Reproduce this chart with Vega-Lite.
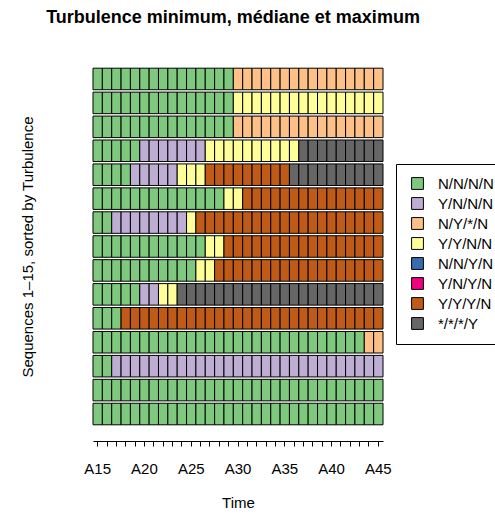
{
  "$schema": "https://vega.github.io/schema/vega-lite/v6.json",
  "autosize": {"type": "none"},
  "padding": {"left": 93, "top": 67, "right": 112, "bottom": 87},
  "width": 290,
  "height": 359,
  "background": "white",
  "config": {"view": {"stroke": null}, "font": "Liberation Sans"},
  "title": {"text": "Turbulence minimum, médiane et maximum", "font": "Liberation Sans", "fontSize": 18, "fontWeight": "bold", "anchor": "middle", "offset": 40, "dx": -5, "color": "black"},
  "data": {"values": [
    {"seq": 1, "A15": "N/N/N/N", "A16": "N/N/N/N", "A17": "N/N/N/N", "A18": "N/N/N/N", "A19": "N/N/N/N", "A20": "N/N/N/N", "A21": "N/N/N/N", "A22": "N/N/N/N", "A23": "N/N/N/N", "A24": "N/N/N/N", "A25": "N/N/N/N", "A26": "N/N/N/N", "A27": "N/N/N/N", "A28": "N/N/N/N", "A29": "N/N/N/N", "A30": "N/Y/*/N", "A31": "N/Y/*/N", "A32": "N/Y/*/N", "A33": "N/Y/*/N", "A34": "N/Y/*/N", "A35": "N/Y/*/N", "A36": "N/Y/*/N", "A37": "N/Y/*/N", "A38": "N/Y/*/N", "A39": "N/Y/*/N", "A40": "N/Y/*/N", "A41": "N/Y/*/N", "A42": "N/Y/*/N", "A43": "N/Y/*/N", "A44": "N/Y/*/N", "A45": "N/Y/*/N"},
    {"seq": 2, "A15": "N/N/N/N", "A16": "N/N/N/N", "A17": "N/N/N/N", "A18": "N/N/N/N", "A19": "N/N/N/N", "A20": "N/N/N/N", "A21": "N/N/N/N", "A22": "N/N/N/N", "A23": "N/N/N/N", "A24": "N/N/N/N", "A25": "N/N/N/N", "A26": "N/N/N/N", "A27": "N/N/N/N", "A28": "N/N/N/N", "A29": "N/N/N/N", "A30": "Y/Y/N/N", "A31": "Y/Y/N/N", "A32": "Y/Y/N/N", "A33": "Y/Y/N/N", "A34": "Y/Y/N/N", "A35": "Y/Y/N/N", "A36": "Y/Y/N/N", "A37": "Y/Y/N/N", "A38": "Y/Y/N/N", "A39": "Y/Y/N/N", "A40": "Y/Y/N/N", "A41": "Y/Y/N/N", "A42": "Y/Y/N/N", "A43": "Y/Y/N/N", "A44": "Y/Y/N/N", "A45": "Y/Y/N/N"},
    {"seq": 3, "A15": "N/N/N/N", "A16": "N/N/N/N", "A17": "N/N/N/N", "A18": "N/N/N/N", "A19": "N/N/N/N", "A20": "N/N/N/N", "A21": "N/N/N/N", "A22": "N/N/N/N", "A23": "N/N/N/N", "A24": "N/N/N/N", "A25": "N/N/N/N", "A26": "N/N/N/N", "A27": "N/N/N/N", "A28": "N/N/N/N", "A29": "N/N/N/N", "A30": "N/Y/*/N", "A31": "N/Y/*/N", "A32": "N/Y/*/N", "A33": "N/Y/*/N", "A34": "N/Y/*/N", "A35": "N/Y/*/N", "A36": "N/Y/*/N", "A37": "N/Y/*/N", "A38": "N/Y/*/N", "A39": "N/Y/*/N", "A40": "N/Y/*/N", "A41": "N/Y/*/N", "A42": "N/Y/*/N", "A43": "N/Y/*/N", "A44": "N/Y/*/N", "A45": "N/Y/*/N"},
    {"seq": 4, "A15": "N/N/N/N", "A16": "N/N/N/N", "A17": "N/N/N/N", "A18": "N/N/N/N", "A19": "N/N/N/N", "A20": "Y/N/N/N", "A21": "Y/N/N/N", "A22": "Y/N/N/N", "A23": "Y/N/N/N", "A24": "Y/N/N/N", "A25": "Y/N/N/N", "A26": "Y/N/N/N", "A27": "Y/Y/N/N", "A28": "Y/Y/N/N", "A29": "Y/Y/N/N", "A30": "Y/Y/N/N", "A31": "Y/Y/N/N", "A32": "Y/Y/N/N", "A33": "Y/Y/N/N", "A34": "Y/Y/N/N", "A35": "Y/Y/N/N", "A36": "Y/Y/N/N", "A37": "*/*/*/Y", "A38": "*/*/*/Y", "A39": "*/*/*/Y", "A40": "*/*/*/Y", "A41": "*/*/*/Y", "A42": "*/*/*/Y", "A43": "*/*/*/Y", "A44": "*/*/*/Y", "A45": "*/*/*/Y"},
    {"seq": 5, "A15": "N/N/N/N", "A16": "N/N/N/N", "A17": "N/N/N/N", "A18": "N/N/N/N", "A19": "Y/N/N/N", "A20": "Y/N/N/N", "A21": "Y/N/N/N", "A22": "Y/N/N/N", "A23": "Y/N/N/N", "A24": "Y/Y/N/N", "A25": "Y/Y/N/N", "A26": "Y/Y/N/N", "A27": "Y/Y/Y/N", "A28": "Y/Y/Y/N", "A29": "Y/Y/Y/N", "A30": "Y/Y/Y/N", "A31": "Y/Y/Y/N", "A32": "Y/Y/Y/N", "A33": "Y/Y/Y/N", "A34": "Y/Y/Y/N", "A35": "Y/Y/Y/N", "A36": "*/*/*/Y", "A37": "*/*/*/Y", "A38": "*/*/*/Y", "A39": "*/*/*/Y", "A40": "*/*/*/Y", "A41": "*/*/*/Y", "A42": "*/*/*/Y", "A43": "*/*/*/Y", "A44": "*/*/*/Y", "A45": "*/*/*/Y"},
    {"seq": 6, "A15": "N/N/N/N", "A16": "N/N/N/N", "A17": "N/N/N/N", "A18": "N/N/N/N", "A19": "N/N/N/N", "A20": "N/N/N/N", "A21": "N/N/N/N", "A22": "N/N/N/N", "A23": "N/N/N/N", "A24": "N/N/N/N", "A25": "N/N/N/N", "A26": "N/N/N/N", "A27": "N/N/N/N", "A28": "N/N/N/N", "A29": "Y/Y/N/N", "A30": "Y/Y/N/N", "A31": "Y/Y/Y/N", "A32": "Y/Y/Y/N", "A33": "Y/Y/Y/N", "A34": "Y/Y/Y/N", "A35": "Y/Y/Y/N", "A36": "Y/Y/Y/N", "A37": "Y/Y/Y/N", "A38": "Y/Y/Y/N", "A39": "Y/Y/Y/N", "A40": "Y/Y/Y/N", "A41": "Y/Y/Y/N", "A42": "Y/Y/Y/N", "A43": "Y/Y/Y/N", "A44": "Y/Y/Y/N", "A45": "Y/Y/Y/N"},
    {"seq": 7, "A15": "N/N/N/N", "A16": "N/N/N/N", "A17": "Y/N/N/N", "A18": "Y/N/N/N", "A19": "Y/N/N/N", "A20": "Y/N/N/N", "A21": "Y/N/N/N", "A22": "Y/N/N/N", "A23": "Y/N/N/N", "A24": "Y/N/N/N", "A25": "Y/Y/N/N", "A26": "Y/Y/Y/N", "A27": "Y/Y/Y/N", "A28": "Y/Y/Y/N", "A29": "Y/Y/Y/N", "A30": "Y/Y/Y/N", "A31": "Y/Y/Y/N", "A32": "Y/Y/Y/N", "A33": "Y/Y/Y/N", "A34": "Y/Y/Y/N", "A35": "Y/Y/Y/N", "A36": "Y/Y/Y/N", "A37": "Y/Y/Y/N", "A38": "Y/Y/Y/N", "A39": "Y/Y/Y/N", "A40": "Y/Y/Y/N", "A41": "Y/Y/Y/N", "A42": "Y/Y/Y/N", "A43": "Y/Y/Y/N", "A44": "Y/Y/Y/N", "A45": "Y/Y/Y/N"},
    {"seq": 8, "A15": "N/N/N/N", "A16": "N/N/N/N", "A17": "N/N/N/N", "A18": "N/N/N/N", "A19": "N/N/N/N", "A20": "N/N/N/N", "A21": "N/N/N/N", "A22": "N/N/N/N", "A23": "N/N/N/N", "A24": "N/N/N/N", "A25": "N/N/N/N", "A26": "N/N/N/N", "A27": "Y/Y/N/N", "A28": "Y/Y/N/N", "A29": "Y/Y/Y/N", "A30": "Y/Y/Y/N", "A31": "Y/Y/Y/N", "A32": "Y/Y/Y/N", "A33": "Y/Y/Y/N", "A34": "Y/Y/Y/N", "A35": "Y/Y/Y/N", "A36": "Y/Y/Y/N", "A37": "Y/Y/Y/N", "A38": "Y/Y/Y/N", "A39": "Y/Y/Y/N", "A40": "Y/Y/Y/N", "A41": "Y/Y/Y/N", "A42": "Y/Y/Y/N", "A43": "Y/Y/Y/N", "A44": "Y/Y/Y/N", "A45": "Y/Y/Y/N"},
    {"seq": 9, "A15": "N/N/N/N", "A16": "N/N/N/N", "A17": "N/N/N/N", "A18": "N/N/N/N", "A19": "N/N/N/N", "A20": "N/N/N/N", "A21": "N/N/N/N", "A22": "N/N/N/N", "A23": "N/N/N/N", "A24": "N/N/N/N", "A25": "N/N/N/N", "A26": "Y/Y/N/N", "A27": "Y/Y/N/N", "A28": "Y/Y/Y/N", "A29": "Y/Y/Y/N", "A30": "Y/Y/Y/N", "A31": "Y/Y/Y/N", "A32": "Y/Y/Y/N", "A33": "Y/Y/Y/N", "A34": "Y/Y/Y/N", "A35": "Y/Y/Y/N", "A36": "Y/Y/Y/N", "A37": "Y/Y/Y/N", "A38": "Y/Y/Y/N", "A39": "Y/Y/Y/N", "A40": "Y/Y/Y/N", "A41": "Y/Y/Y/N", "A42": "Y/Y/Y/N", "A43": "Y/Y/Y/N", "A44": "Y/Y/Y/N", "A45": "Y/Y/Y/N"},
    {"seq": 10, "A15": "N/N/N/N", "A16": "N/N/N/N", "A17": "N/N/N/N", "A18": "N/N/N/N", "A19": "N/N/N/N", "A20": "Y/N/N/N", "A21": "Y/N/N/N", "A22": "Y/Y/N/N", "A23": "Y/Y/N/N", "A24": "*/*/*/Y", "A25": "*/*/*/Y", "A26": "*/*/*/Y", "A27": "*/*/*/Y", "A28": "*/*/*/Y", "A29": "*/*/*/Y", "A30": "*/*/*/Y", "A31": "*/*/*/Y", "A32": "*/*/*/Y", "A33": "*/*/*/Y", "A34": "*/*/*/Y", "A35": "*/*/*/Y", "A36": "*/*/*/Y", "A37": "*/*/*/Y", "A38": "*/*/*/Y", "A39": "*/*/*/Y", "A40": "*/*/*/Y", "A41": "*/*/*/Y", "A42": "*/*/*/Y", "A43": "*/*/*/Y", "A44": "*/*/*/Y", "A45": "*/*/*/Y"},
    {"seq": 11, "A15": "N/N/N/N", "A16": "N/N/N/N", "A17": "N/N/N/N", "A18": "Y/Y/Y/N", "A19": "Y/Y/Y/N", "A20": "Y/Y/Y/N", "A21": "Y/Y/Y/N", "A22": "Y/Y/Y/N", "A23": "Y/Y/Y/N", "A24": "Y/Y/Y/N", "A25": "Y/Y/Y/N", "A26": "Y/Y/Y/N", "A27": "Y/Y/Y/N", "A28": "Y/Y/Y/N", "A29": "Y/Y/Y/N", "A30": "Y/Y/Y/N", "A31": "Y/Y/Y/N", "A32": "Y/Y/Y/N", "A33": "Y/Y/Y/N", "A34": "Y/Y/Y/N", "A35": "Y/Y/Y/N", "A36": "Y/Y/Y/N", "A37": "Y/Y/Y/N", "A38": "Y/Y/Y/N", "A39": "Y/Y/Y/N", "A40": "Y/Y/Y/N", "A41": "Y/Y/Y/N", "A42": "Y/Y/Y/N", "A43": "Y/Y/Y/N", "A44": "Y/Y/Y/N", "A45": "Y/Y/Y/N"},
    {"seq": 12, "A15": "N/N/N/N", "A16": "N/N/N/N", "A17": "N/N/N/N", "A18": "N/N/N/N", "A19": "N/N/N/N", "A20": "N/N/N/N", "A21": "N/N/N/N", "A22": "N/N/N/N", "A23": "N/N/N/N", "A24": "N/N/N/N", "A25": "N/N/N/N", "A26": "N/N/N/N", "A27": "N/N/N/N", "A28": "N/N/N/N", "A29": "N/N/N/N", "A30": "N/N/N/N", "A31": "N/N/N/N", "A32": "N/N/N/N", "A33": "N/N/N/N", "A34": "N/N/N/N", "A35": "N/N/N/N", "A36": "N/N/N/N", "A37": "N/N/N/N", "A38": "N/N/N/N", "A39": "N/N/N/N", "A40": "N/N/N/N", "A41": "N/N/N/N", "A42": "N/N/N/N", "A43": "N/N/N/N", "A44": "N/Y/*/N", "A45": "N/Y/*/N"},
    {"seq": 13, "A15": "N/N/N/N", "A16": "N/N/N/N", "A17": "Y/N/N/N", "A18": "Y/N/N/N", "A19": "Y/N/N/N", "A20": "Y/N/N/N", "A21": "Y/N/N/N", "A22": "Y/N/N/N", "A23": "Y/N/N/N", "A24": "Y/N/N/N", "A25": "Y/N/N/N", "A26": "Y/N/N/N", "A27": "Y/N/N/N", "A28": "Y/N/N/N", "A29": "Y/N/N/N", "A30": "Y/N/N/N", "A31": "Y/N/N/N", "A32": "Y/N/N/N", "A33": "Y/N/N/N", "A34": "Y/N/N/N", "A35": "Y/N/N/N", "A36": "Y/N/N/N", "A37": "Y/N/N/N", "A38": "Y/N/N/N", "A39": "Y/N/N/N", "A40": "Y/N/N/N", "A41": "Y/N/N/N", "A42": "Y/N/N/N", "A43": "Y/N/N/N", "A44": "Y/N/N/N", "A45": "Y/N/N/N"},
    {"seq": 14, "A15": "N/N/N/N", "A16": "N/N/N/N", "A17": "N/N/N/N", "A18": "N/N/N/N", "A19": "N/N/N/N", "A20": "N/N/N/N", "A21": "N/N/N/N", "A22": "N/N/N/N", "A23": "N/N/N/N", "A24": "N/N/N/N", "A25": "N/N/N/N", "A26": "N/N/N/N", "A27": "N/N/N/N", "A28": "N/N/N/N", "A29": "N/N/N/N", "A30": "N/N/N/N", "A31": "N/N/N/N", "A32": "N/N/N/N", "A33": "N/N/N/N", "A34": "N/N/N/N", "A35": "N/N/N/N", "A36": "N/N/N/N", "A37": "N/N/N/N", "A38": "N/N/N/N", "A39": "N/N/N/N", "A40": "N/N/N/N", "A41": "N/N/N/N", "A42": "N/N/N/N", "A43": "N/N/N/N", "A44": "N/N/N/N", "A45": "N/N/N/N"},
    {"seq": 15, "A15": "N/N/N/N", "A16": "N/N/N/N", "A17": "N/N/N/N", "A18": "N/N/N/N", "A19": "N/N/N/N", "A20": "N/N/N/N", "A21": "N/N/N/N", "A22": "N/N/N/N", "A23": "N/N/N/N", "A24": "N/N/N/N", "A25": "N/N/N/N", "A26": "N/N/N/N", "A27": "N/N/N/N", "A28": "N/N/N/N", "A29": "N/N/N/N", "A30": "N/N/N/N", "A31": "N/N/N/N", "A32": "N/N/N/N", "A33": "N/N/N/N", "A34": "N/N/N/N", "A35": "N/N/N/N", "A36": "N/N/N/N", "A37": "N/N/N/N", "A38": "N/N/N/N", "A39": "N/N/N/N", "A40": "N/N/N/N", "A41": "N/N/N/N", "A42": "N/N/N/N", "A43": "N/N/N/N", "A44": "N/N/N/N", "A45": "N/N/N/N"}
  ]},
  "transform": [
    {"fold": ["A15","A16","A17","A18","A19","A20","A21","A22","A23","A24","A25","A26","A27","A28","A29","A30","A31","A32","A33","A34","A35","A36","A37","A38","A39","A40","A41","A42","A43","A44","A45"], "as": ["time", "state"]}
  ],
  "mark": {"type": "rect", "stroke": "black", "strokeWidth": 1},
  "encoding": {
    "x": {
      "field": "time", "type": "ordinal", "sort": "ascending",
      "scale": {"paddingInner": 0, "paddingOuter": 0},
      "axis": {
        "title": "Time", "titleFontSize": 15, "titleFontWeight": "normal", "titleColor": "black", "titlePadding": 19,
        "offset": 15, "tickSize": 5, "tickColor": "black", "domainColor": "black", "tickWidth": 1, "domainWidth": 1,
        "labelAngle": 0, "labelFontSize": 15, "labelColor": "black", "labelPadding": 15,
        "labelOverlap": false, "labelFlush": false, "labelBound": false,
        "labelExpr": "indexof(['A15','A20','A25','A30','A35','A40','A45'], datum.value) >= 0 ? datum.value : ''"
      }
    },
    "y": {
      "field": "seq", "type": "ordinal", "sort": "ascending",
      "scale": {"paddingInner": 0.1, "paddingOuter": 0.05},
      "axis": {
        "title": "Sequences 1–15, sorted by Turbulence", "labels": false, "ticks": false, "domain": false,
        "titleFontSize": 15, "titleFontWeight": "normal", "titleColor": "black", "titlePadding": 58
      }
    },
    "fill": {
      "field": "state", "type": "nominal",
      "scale": {
        "domain": ["N/N/N/N", "Y/N/N/N", "N/Y/*/N", "Y/Y/N/N", "N/N/Y/N", "Y/N/Y/N", "Y/Y/Y/N", "*/*/*/Y"],
        "range": ["#7FC97F", "#BEAED4", "#FDC086", "#FFFF99", "#386CB0", "#F0027F", "#BF5B17", "#666666"]
      },
      "legend": {
        "title": null, "orient": "none", "legendX": 303, "legendY": 97,
        "strokeColor": "black", "padding": 12, "fillColor": "white",
        "symbolType": "square", "symbolSize": 140, "symbolStrokeColor": "black", "symbolStrokeWidth": 1, "symbolOpacity": 1, "symbolOffset": 2,
        "labelFontSize": 15, "labelColor": "black", "labelOffset": 13, "rowPadding": 3, "labelLimit": 200
      }
    }
  }
}
